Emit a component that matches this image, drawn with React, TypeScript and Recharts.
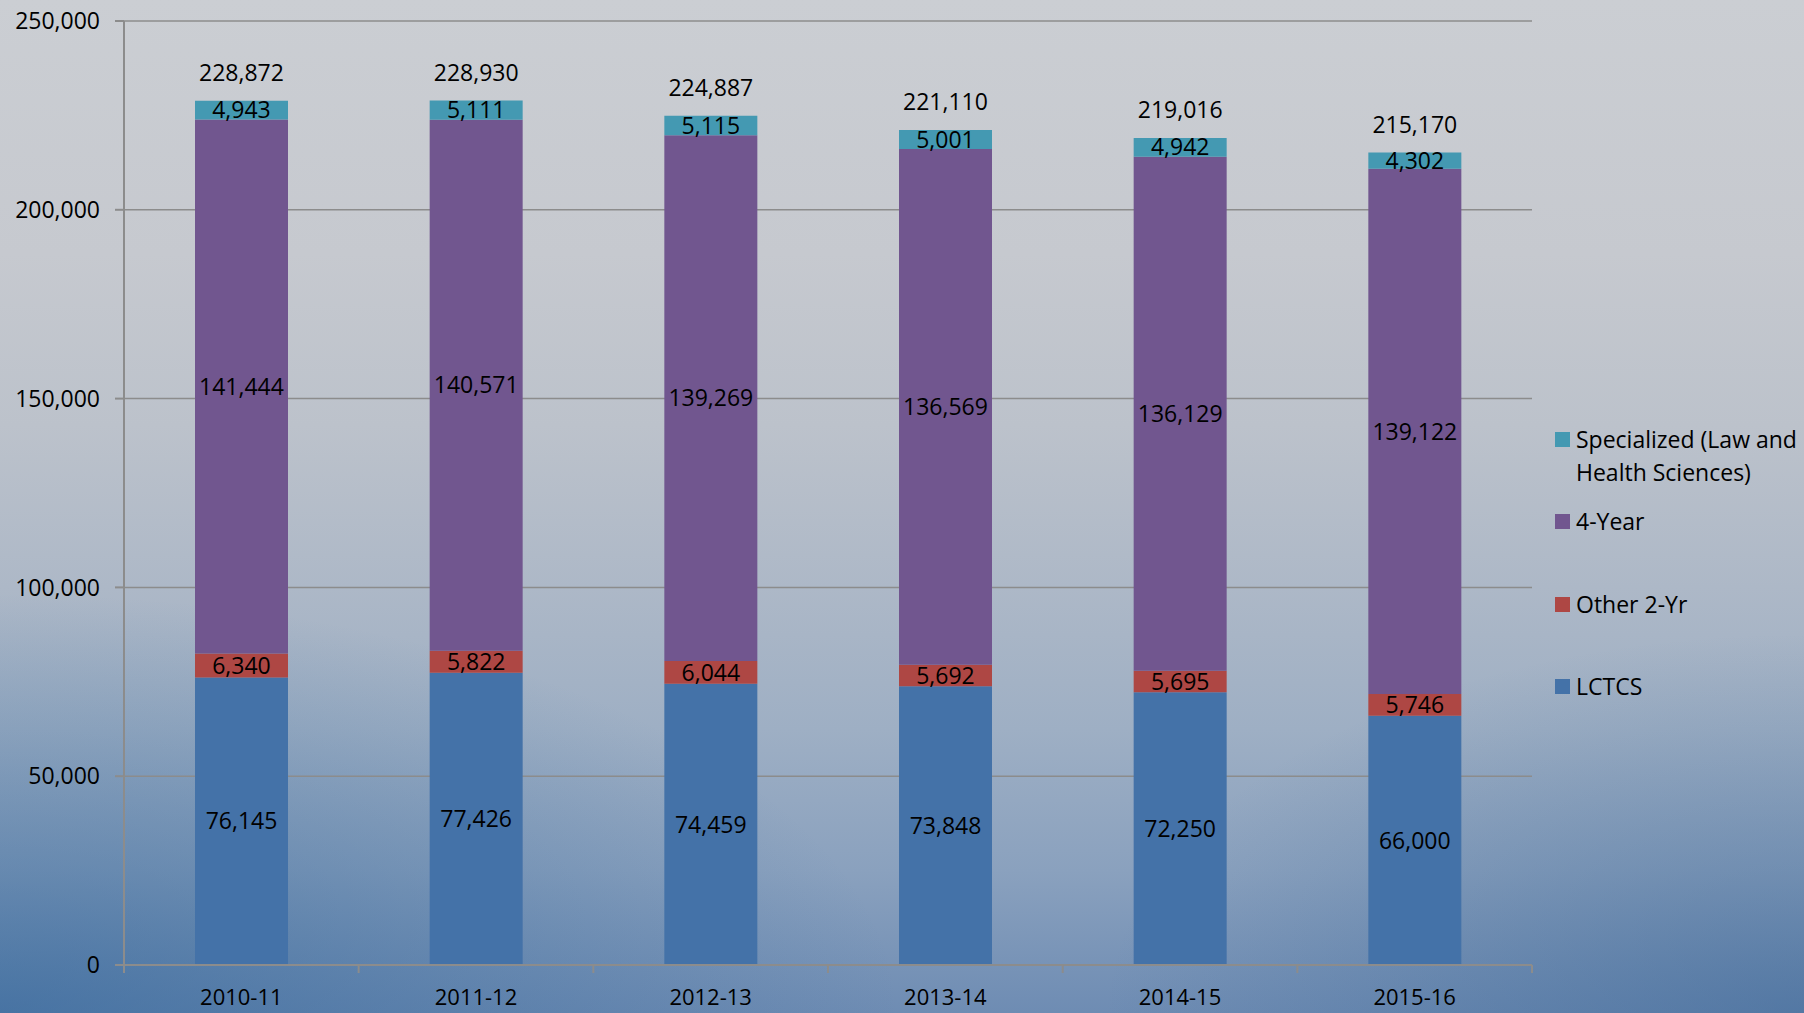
import React from 'react';
import { BarChart, Bar, XAxis, YAxis, CartesianGrid, Legend, LabelList } from 'recharts';

const years = ['2010-11', '2011-12', '2012-13', '2013-14', '2014-15', '2015-16'];
const lctcs = [76145, 77426, 74459, 73848, 72250, 66000];
const other2yr = [6340, 5822, 6044, 5692, 5695, 5746];
const fourYear = [141444, 140571, 139269, 136569, 136129, 139122];
const specialized = [4943, 5111, 5115, 5001, 4942, 4302];
const totals = [228872, 228930, 224887, 221110, 219016, 215170];
const yTicks = [0, 50000, 100000, 150000, 200000, 250000];

const data = years.map((y, i) => ({
  year: y,
  lctcs: lctcs[i],
  other2yr: other2yr[i],
  fourYear: fourYear[i],
  specialized: specialized[i],
  total: totals[i],
}));

const COLORS = {
  lctcs: '#4472A8',
  other2yr: '#AE4744',
  fourYear: '#71568F',
  specialized: '#4499B2',
};

const W = 1804;
const H = 1013;
const MARGIN = { top: 21, right: 272, left: 0, bottom: 0 };
const Y_WIDTH = 124;
const X_HEIGHT = 48;
const BAND = (W - MARGIN.right - Y_WIDTH) / years.length;

const fmt = (v: number) => v.toLocaleString('en-US');

const XTick = (props: any) => {
  const { x, y, payload, index } = props;
  return (
    <g>
      <line x1={x - BAND / 2} x2={x - BAND / 2} y1={y} y2={y + 8} stroke="#8c8c8c" strokeWidth={2} />
      {index === years.length - 1 && (
        <line x1={x + BAND / 2} x2={x + BAND / 2} y1={y} y2={y + 8} stroke="#8c8c8c" strokeWidth={2} />
      )}
      <text x={x} y={y + 40} textAnchor="middle" fill="#000" fontSize={22}>
        {payload.value}
      </text>
    </g>
  );
};

const TotalLabel = (props: any) => {
  const { x, y, width, value } = props;
  return (
    <text x={x + width / 2} y={y - 20} textAnchor="middle" fill="#000" fontSize={23}>
      {fmt(value)}
    </text>
  );
};

const legendItems = [
  { key: 'specialized', label: 'Specialized (Law and Health Sciences)', lines: ['Specialized (Law and', 'Health Sciences)'], mt: 0 },
  { key: 'fourYear', label: '4-Year', lines: ['4-Year'], mt: 16 },
  { key: 'other2yr', label: 'Other 2-Yr', lines: ['Other 2-Yr'], mt: 50 },
  { key: 'lctcs', label: 'LCTCS', lines: ['LCTCS'], mt: 49 },
];

const LegendContent = () => (
  <div style={{ fontSize: 23, color: '#000' }}>
    {legendItems.map((it) => (
      <div key={it.key} style={{ display: 'flex', alignItems: 'flex-start', marginTop: it.mt }}>
        <div
          style={{
            width: 15,
            height: 15,
            background: (COLORS as any)[it.key],
            marginTop: 9,
            marginRight: 6,
            flex: '0 0 auto',
          }}
        />
        <div style={{ lineHeight: '33px' }}>
          {it.lines.map((l, i) => (
            <div key={i} style={{ whiteSpace: 'nowrap' }}>{l}</div>
          ))}
        </div>
      </div>
    ))}
  </div>
);

export default function App() {
  return (
    <div
      style={{
        position: 'absolute',
        left: 0,
        top: 0,
        width: W,
        height: H,
        fontFamily: "'Open Sans', sans-serif",
        background:
          'radial-gradient(ellipse 900px 420px at 0% 100%, rgba(40,95,150,0.55), rgba(40,95,150,0) 100%), ' +
          'radial-gradient(ellipse 700px 380px at 100% 100%, rgba(50,95,145,0.45), rgba(50,95,145,0) 100%), ' +
          'linear-gradient(to bottom, #cbced3 0%, #c6c9cf 25%, #bcc2cb 42%, #adb8c7 58%, #9eafc4 72%, #8aa1be 86%, #6e8cb3 100%)',
        overflow: 'hidden',
      }}
    >
      <BarChart width={W} height={H} data={data} margin={MARGIN} barSize={93}>
        <CartesianGrid vertical={false} stroke="#8c8c8c" strokeWidth={1.5} />
        <XAxis
          dataKey="year"
          height={X_HEIGHT}
          tickLine={false}
          tickSize={0}
          tickMargin={0}
          axisLine={{ stroke: '#8c8c8c', strokeWidth: 2 }}
          tick={<XTick />}
          interval={0}
        />
        <YAxis
          width={Y_WIDTH}
          domain={[0, 250000]}
          ticks={yTicks}
          tickFormatter={fmt}
          tickSize={9}
          tickMargin={15}
          tickLine={{ stroke: '#8c8c8c', strokeWidth: 2 }}
          axisLine={{ stroke: '#8c8c8c', strokeWidth: 2 }}
          tick={{ fill: '#000', fontSize: 23 }}
          interval={0}
        />
        <Legend
          layout="vertical"
          align="center"
          verticalAlign="middle"
          content={<LegendContent />}
          wrapperStyle={{ left: 1555, top: 423, width: 249 }}
        />
        <Bar dataKey="lctcs" name="LCTCS" stackId="a" fill={COLORS.lctcs} isAnimationActive={false}>
          <LabelList dataKey="lctcs" position="center" formatter={fmt} fill="#000" fontSize={23} />
        </Bar>
        <Bar dataKey="other2yr" name="Other 2-Yr" stackId="a" fill={COLORS.other2yr} isAnimationActive={false}>
          <LabelList dataKey="other2yr" position="center" formatter={fmt} fill="#000" fontSize={23} />
        </Bar>
        <Bar dataKey="fourYear" name="4-Year" stackId="a" fill={COLORS.fourYear} isAnimationActive={false}>
          <LabelList dataKey="fourYear" position="center" formatter={fmt} fill="#000" fontSize={23} />
        </Bar>
        <Bar
          dataKey="specialized"
          name="Specialized (Law and Health Sciences)"
          stackId="a"
          fill={COLORS.specialized}
          isAnimationActive={false}
        >
          <LabelList dataKey="specialized" position="center" formatter={fmt} fill="#000" fontSize={23} />
          <LabelList dataKey="total" content={<TotalLabel />} />
        </Bar>
      </BarChart>
    </div>
  );
}
